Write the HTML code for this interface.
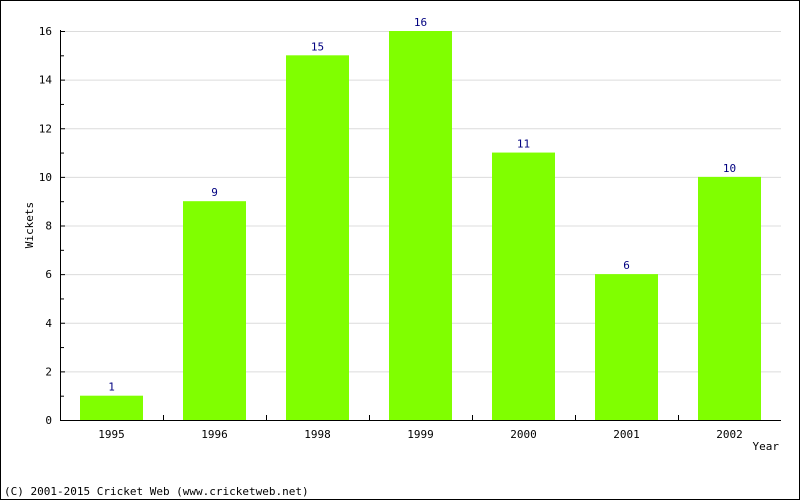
<!DOCTYPE html>
<html><head><meta charset="utf-8"><style>
body{margin:0;background:#fff}
svg{display:block;font-family:"DejaVu Sans Mono","Liberation Mono",monospace}
</style></head><body>
<svg width="800" height="500" viewBox="0 0 800 500">
<rect x="0.5" y="0.5" width="799" height="499" fill="#fff" stroke="#000"/>
<g id="grid"></g><g id="bars"></g><g id="axes"></g>
<text x="33" y="225" font-size="11" text-anchor="middle" transform="rotate(-90 33 225)">Wickets</text>
<text x="779" y="450" font-size="11" text-anchor="end">Year</text>
<text x="4" y="495" font-size="11">(C) 2001-2015 Cricket Web (www.cricketweb.net)</text>
</svg>
<script>
const categories=["1995","1996","1998","1999","2000","2001","2002"];
const values=[1,9,15,16,11,6,10];
const yTicks=[0,2,4,6,8,10,12,14,16];
const NS="http://www.w3.org/2000/svg";
const X0=60,X1=781,Y0=420,Y1=31,YMAX=16;
const cw=(X1-X0)/categories.length;
function y(v){return Y0-(v/YMAX)*(Y0-Y1);}
function xc(i){return X0+cw*(i+0.5);}
function mk(tag,attrs,parent,text){const e=document.createElementNS(NS,tag);for(const k in attrs)e.setAttribute(k,attrs[k]);if(text!==undefined)e.textContent=text;parent.appendChild(e);return e;}
const grid=document.getElementById('grid'),bars=document.getElementById('bars'),axes=document.getElementById('axes');
yTicks.forEach(t=>{
  if(t>0){const g=mk('line',{x1:X0,x2:X1,y1:y(t)+0.5,y2:y(t)+0.5,stroke:'#dcdcdc'},grid);
  
  }
  const tk=mk('line',{x1:X0,x2:X0+5,y1:y(t)+0.5,y2:y(t)+0.5,stroke:'#000'},axes);
  
  
  const lb=mk('text',{x:X0-8,y:y(t)+4,'font-size':11,'text-anchor':'end'},axes,t);
  
  
  if(t<YMAX){const m=mk('line',{x1:X0,x2:X0+4,y1:y(t+1)+0.5,y2:y(t+1)+0.5,stroke:'#000'},axes);
  
  }
});
categories.forEach((c,i)=>{
  const bw=63,v=values[i];
  const r=mk('rect',{x:xc(i)-bw/2,y:y(v),width:bw,height:Y0-y(v),fill:'#80ff00'},bars);
  
  
  const vl=mk('text',{x:xc(i),y:y(v)-5,'font-size':11,'text-anchor':'middle',fill:'#000080'},bars,v);
  
  
  const xl=mk('text',{x:xc(i),y:Y0+18,'font-size':11,'text-anchor':'middle'},axes,c);
  
  
  if(i>0){const xt=mk('line',{x1:X0+cw*i+0.5,x2:X0+cw*i+0.5,y1:Y0,y2:Y0-5,stroke:'#000'},axes);
  
  }
});
const ya=mk('line',{x1:X0+0.5,x2:X0+0.5,y1:Y1-1,y2:Y0+1,stroke:'#000'},axes);


const xa=mk('line',{x1:X0,x2:X1,y1:Y0+0.5,y2:Y0+0.5,stroke:'#000'},axes);


</script>
</body></html>
